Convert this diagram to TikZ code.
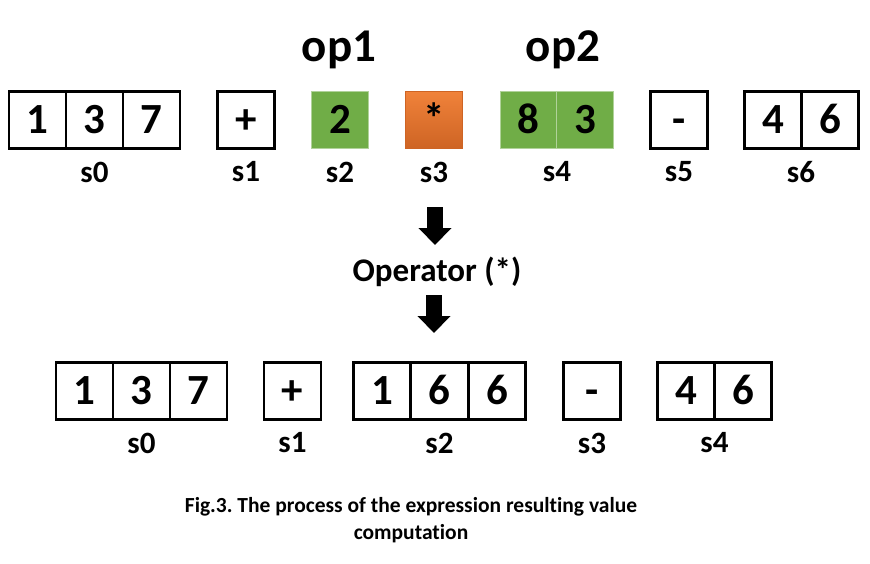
\documentclass[tikz,border=0pt]{standalone}
\usepackage{fontspec}
\setmainfont{Carlito}[Ligatures = NoCommon]
\usetikzlibrary{arrows.meta}
\frenchspacing
\definecolor{cellgreen}{RGB}{112,173,71}
\definecolor{orangetop}{RGB}{240,130,58}
\definecolor{orangebot}{RGB}{206,100,36}
\tikzset {
    cell/.style = {
        draw, line width = 2.4pt,
        minimum width = 57pt, minimum height = 57pt, inner sep = 0pt,
        font = {\fontsize{43}{48}\selectfont\bfseries},
        text height = 27pt, text depth = 0pt
    },
    green cell/.style = {cell, fill = cellgreen, draw = cellgreen!55!white, line width = 0.6pt},
    orange cell/.style = {cell, top color = orangetop, bottom color = orangebot, draw = orangebot, line width = 0.6pt},
    slot/.style = {inner sep = 0pt, font = {\fontsize{31}{36}\selectfont\bfseries}},
    op label/.style = {inner sep = 0pt, font = {\fontsize{47}{54}\selectfont\bfseries}},
    block arrow/.style = {line width = 16pt, -{Triangle[width = 32pt, length = 17pt]}}
}
\begin{document}
\begin{tikzpicture}[x = 1pt, y = -1pt]
    \useasboundingbox (0, 0) rectangle (870, 563);
    % before
    \node (op1) [op label] at (339, 50) {op1};
    \node (op2) [op label] at (563, 50) {op2};
    \node (t00) [cell] at ( 37.5, 120) {1};
    \node (t01) [cell] at ( 94.5, 120) {3};
    \node (t02) [cell] at (151.5, 120) {7};
    \node (t1)  [cell] at (246, 120) {+};
    \node (t2)  [green cell] at (340, 120) {2};
    \node (t3)  [orange cell] at (434, 120) {*};
    \node (t40) [green cell] at (528.5, 120) {8};
    \node (t41) [green cell] at (585, 120) {3};
    \node (t5)  [cell] at (679, 120) {-};
    \node (t60) [cell] at (773, 120) {4};
    \node (t61) [cell] at (830, 120) {6};
    \node (ts0) [slot] at ( 94.5, 172) {s0};
    \node (ts1) [slot] at (246, 172) {s1};
    \node (ts2) [slot] at (340, 172) {s2};
    \node (ts3) [slot] at (434, 172) {s3};
    \node (ts4) [slot] at (557, 172) {s4};
    \node (ts5) [slot] at (679, 172) {s5};
    \node (ts6) [slot] at (801, 172) {s6};
    % operator
    \node (oper) [slot, font = {\fontsize{33}{38}\selectfont\bfseries}] at (437, 272) {Operator (*)};
    \coordinate (a1) at (435, 207);
    \coordinate (a1e) at (435, 245);
    \coordinate (a2) at (434, 295);
    \coordinate (a2e) at (434, 333);
    \draw [block arrow] (a1) -- (a1e);
    \draw [block arrow] (a2) -- (a2e);
    % after
    \node (b00) [cell] at ( 84.5, 391) {1};
    \node (b01) [cell] at (141.5, 391) {3};
    \node (b02) [cell] at (198.5, 391) {7};
    \node (b1)  [cell] at (292.5, 391) {+};
    \node (b20) [cell] at (382, 391) {1};
    \node (b21) [cell] at (439.5, 391) {6};
    \node (b22) [cell] at (497, 391) {6};
    \node (b3)  [cell] at (592, 391) {-};
    \node (b40) [cell] at (686, 391) {4};
    \node (b41) [cell] at (743, 391) {6};
    \node (bs0) [slot] at (141.5, 443) {s0};
    \node (bs1) [slot] at (292.5, 443) {s1};
    \node (bs2) [slot] at (439.5, 443) {s2};
    \node (bs3) [slot] at (592, 443) {s3};
    \node (bs4) [slot] at (714.5, 443) {s4};
    % caption
    \node (cap) [align = center, inner sep = 0pt, font = {\fontsize{21.5}{27}\selectfont\bfseries}]
        at (411, 520) {Fig.3. The process of the expression resulting value\\computation};
\end{tikzpicture}
\end{document}
